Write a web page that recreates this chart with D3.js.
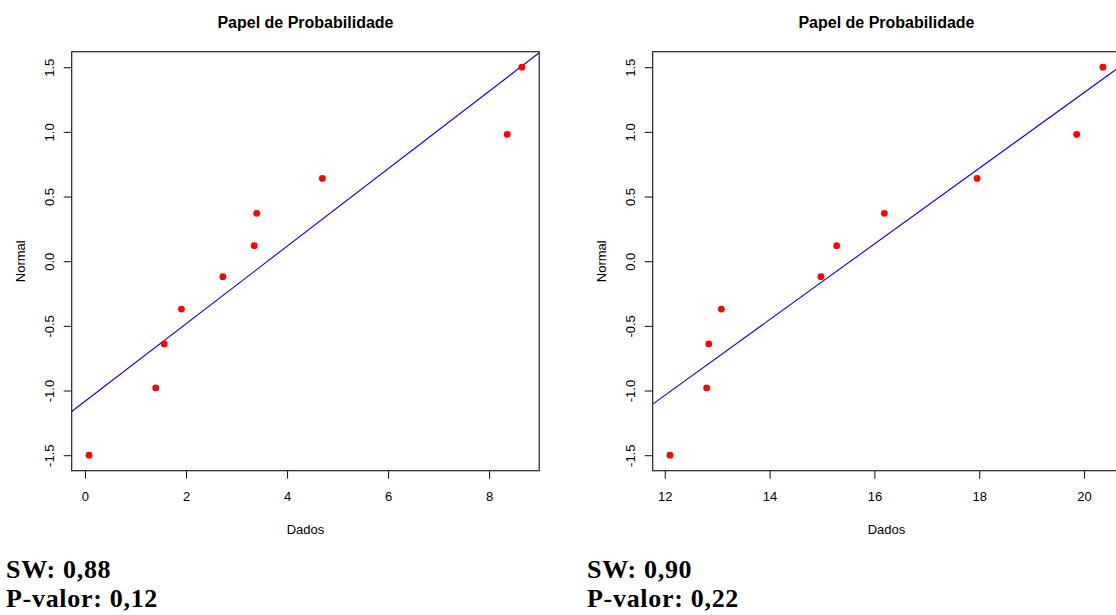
<!DOCTYPE html>
<html>
<head>
<meta charset="utf-8">
<script src="https://cdn.jsdelivr.net/npm/d3@7"></script>
<style>
  body { margin: 0; background: #ffffff; }
  svg { display: block; }
</style>
</head>
<body>
<svg id="chart" width="1116" height="615"></svg>
<script>
// Sorted samples and their normal scores (median-rank plotting positions)
const dadosA = [0.08, 1.40, 1.57, 1.91, 2.73, 3.35, 3.40, 4.70, 8.36, 8.65];
const dadosB = [12.10, 12.80, 12.84, 13.08, 14.98, 15.28, 16.19, 17.96, 19.86, 20.36];
const normalScores = [-1.50, -0.98, -0.64, -0.37, -0.12, 0.12, 0.37, 0.64, 0.98, 1.50];

const xTicksA = [0, 2, 4, 6, 8];
const xTicksB = [12, 14, 16, 18, 20];
const yTicks = [-1.5, -1.0, -0.5, 0.0, 0.5, 1.0, 1.5];

// Shapiro-Wilk statistic and p-value for each sample
const swValues = [0.88, 0.90];
const pValues = [0.12, 0.22];

const titleText = "Papel de Probabilidade";
const xLabel = "Dados";
const yLabel = "Normal";

const svg = d3.select("#chart");

const plotW = 467.5, plotTop = 51.7, plotBottom = 470.7;
const panels = [
  { left: 71.7, data: dadosA, ticks: xTicksA, sw: swValues[0], p: pValues[0] },
  { left: 652.7, data: dadosB, ticks: xTicksB, sw: swValues[1], p: pValues[1] }
];

const sansFont = "'Liberation Sans', Arial, Helvetica, sans-serif";
const serifFont = "'Liberation Serif', 'Times New Roman', serif";
const comma = v => v.toFixed(2).replace(".", ",");

// pad a data range by 4% on each side
function padded(values) {
  const [lo, hi] = d3.extent(values);
  const r = hi - lo;
  return [lo - 0.04 * r, hi + 0.04 * r];
}

panels.forEach((pn, i) => {
  const x = d3.scaleLinear().domain(padded(pn.data)).range([pn.left, pn.left + plotW]);
  const y = d3.scaleLinear().domain(padded(normalScores)).range([plotBottom, plotTop]);
  const g = svg.append("g");

  const clipId = "clip" + i;
  svg.append("defs").append("clipPath").attr("id", clipId)
    .append("rect")
    .attr("x", pn.left).attr("y", plotTop)
    .attr("width", plotW).attr("height", plotBottom - plotTop);

  // least-squares line of normal score on data
  const mx = d3.mean(pn.data), my = d3.mean(normalScores);
  let sxy = 0, sxx = 0;
  pn.data.forEach((v, k) => { sxy += (v - mx) * (normalScores[k] - my); sxx += (v - mx) * (v - mx); });
  const slope = sxy / sxx, intercept = my - slope * mx;
  const [x0, x1] = x.domain();
  g.append("line")
    .attr("clip-path", `url(#${clipId})`)
    .attr("x1", x(x0)).attr("y1", y(intercept + slope * x0))
    .attr("x2", x(x1)).attr("y2", y(intercept + slope * x1))
    .attr("stroke", "#0000ff").attr("stroke-width", 1.1);

  // points
  g.append("g").selectAll("circle")
    .data(pn.data.map((v, k) => [v, normalScores[k]]))
    .join("circle")
    .attr("cx", d => x(d[0])).attr("cy", d => y(d[1]))
    .attr("r", 3.4).attr("fill", "#ff0000");

  // frame
  g.append("rect")
    .attr("x", pn.left).attr("y", plotTop)
    .attr("width", plotW).attr("height", plotBottom - plotTop)
    .attr("fill", "none").attr("stroke", "#222").attr("stroke-width", 1.2);

  // x axis
  const xa = g.append("g").attr("transform", `translate(0,${plotBottom})`)
    .call(d3.axisBottom(x).tickValues(pn.ticks).tickSize(8).tickFormat(d3.format("d")));
  xa.select(".domain").remove();
  xa.selectAll(".tick line").attr("stroke", "#222").attr("stroke-width", 1.1);
  xa.selectAll(".tick text")
    .attr("y", 30).attr("dy", 0)
    .attr("fill", "#000").style("font-family", sansFont).style("font-size", "13px");

  // y axis with rotated labels
  const ya = g.append("g").attr("transform", `translate(${pn.left},0)`)
    .call(d3.axisLeft(y).tickValues(yTicks).tickSize(8).tickFormat(d => d.toFixed(1)));
  ya.select(".domain").remove();
  ya.selectAll(".tick line").attr("stroke", "#222").attr("stroke-width", 1.1);
  ya.selectAll(".tick text")
    .attr("transform", "rotate(-90)")
    .attr("x", 0).attr("y", -18).attr("dy", 0)
    .attr("text-anchor", "middle")
    .attr("fill", "#000").style("font-family", sansFont).style("font-size", "13px");

  const cx = pn.left + plotW / 2;
  const cy = (plotTop + plotBottom) / 2;

  g.append("text")
    .attr("x", cx).attr("y", 27.5).attr("text-anchor", "middle")
    .style("font-family", sansFont).style("font-size", "16px").style("font-weight", "bold")
    .text(titleText);

  g.append("text")
    .attr("x", cx).attr("y", 534).attr("text-anchor", "middle")
    .style("font-family", sansFont).style("font-size", "13px")
    .text(xLabel);

  g.append("text")
    .attr("transform", `translate(${pn.left - 47},${cy}) rotate(-90)`)
    .attr("text-anchor", "middle")
    .style("font-family", sansFont).style("font-size", "13px")
    .text(yLabel);

  // test statistics below the plot
  const tx = pn.left - 65.7;
  const statStyle = sel => sel
    .style("font-family", serifFont).style("font-size", "26px")
    .style("font-weight", "bold").style("letter-spacing", "0.7px");
  g.append("text").attr("x", tx).attr("y", 577.5).call(statStyle)
    .text("SW: " + comma(pn.sw));
  g.append("text").attr("x", tx).attr("y", 606.5).call(statStyle)
    .text("P-valor: " + comma(pn.p));
});
</script>
</body>
</html>
